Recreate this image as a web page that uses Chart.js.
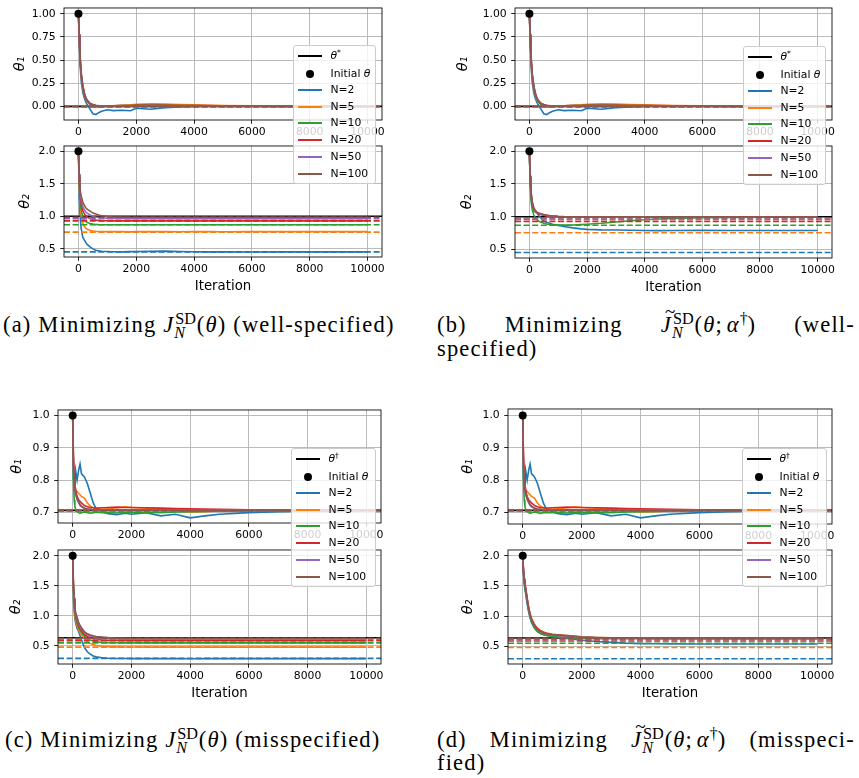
<!DOCTYPE html>
<html>
<head>
<meta charset="utf-8">
<script src="https://cdn.jsdelivr.net/npm/chart.js@4.4.0/dist/chart.umd.min.js"></script>
<style>
  body { margin: 0; background: #fff; }
  #fig { position: relative; width: 859px; height: 778px; overflow: hidden; background: #fff; }
  canvas { position: absolute; }
  .leg { position: absolute; background: rgba(255,255,255,0.8); border: 1px solid #cccccc; border-radius: 3px;
         box-sizing: border-box; font: 10.8px "DejaVu Sans"; color: #000; }
  .row { position: absolute; left: 0; right: 0; height: 0; }
  .sw { position: absolute; left: 4px; width: 24px; top: -1px; height: 2px; }
  .dot { position: absolute; left: 12px; top: -4px; width: 8px; height: 8px; border-radius: 50%; background: #000; }
  .lt { position: absolute; left: 36.5px; top: -7px; line-height: 14px; white-space: nowrap; }
  .lt sup { font-size: 0.7em; vertical-align: 0.55em; line-height: 0; }
  .cap { position: absolute; font-family: "Liberation Serif"; font-size: 22.5px; line-height: 24px; color: #000; white-space: nowrap; }
  .spread { display: flex; justify-content: space-between; }
  .ss { display: inline-block; position: relative; width: 1.0em; height: 0.1em; }
  .up { position: absolute; left: 0.06em; bottom: 0.28em; font-size: 0.72em; line-height: 1; letter-spacing: 0; }
  .dn { position: absolute; left: 0; top: -0.3em; font-size: 0.72em; line-height: 1; font-style: italic; }
  .tl { position: relative; }
  .tld { position: absolute; left: 0.22em; top: -0.5em; font-style: normal; font-size: 0.85em; line-height: 1; }
  .dg { font-size: 0.7em; position: relative; top: -0.5em; letter-spacing: 0; }
  .th { display: inline-block; width: 0.17em; }
</style>
</head>
<body>
<div id="fig">
  <div class="cap" id="capA" style="left:3px;top:313px">(a) Minimizing <i>J</i><span class="ss"><span class="up">SD</span><span class="dn">N</span></span>(<i>θ</i>) (well-specified)</div>
  <div class="cap spread" style="left:437px;top:313px;width:418px"><span>(b)</span><span>Minimizing</span><span><span class="tl"><i>J</i><span class="tld">~</span></span><span class="ss"><span class="up">SD</span><span class="dn">N</span></span>(<i>θ</i>;<span class="th"></span><i>α</i><span class="dg">†</span>)</span><span>(well-</span></div>
  <div class="cap" style="left:437px;top:337px">specified)</div>
  <div class="cap" style="left:5px;top:728px">(c) Minimizing <i>J</i><span class="ss"><span class="up">SD</span><span class="dn">N</span></span>(<i>θ</i>) (misspecified)</div>
  <div class="cap spread" style="left:437px;top:728px;width:418px"><span>(d)</span><span>Minimizing</span><span><span class="tl"><i>J</i><span class="tld">~</span></span><span class="ss"><span class="up">SD</span><span class="dn">N</span></span>(<i>θ</i>;<span class="th"></span><i>α</i><span class="dg">†</span>)</span><span>(misspeci-</span></div>
  <div class="cap" style="left:437px;top:751px">fied)</div>
</div>
<script>
// iterations shared by all traces
const iterations = [0, 25, 50, 75, 100, 150, 200, 250, 300, 400, 500, 600, 700, 800, 1000,
  1200, 1500, 1800, 2000, 2500, 3000, 3500, 4000, 4500, 5000, 6000, 7000, 8000, 9000, 10000];

const nLabels = ['N=2', 'N=5', 'N=10', 'N=20', 'N=50', 'N=100'];
const nColors = ['#1f77b4', '#ff7f0e', '#2ca02c', '#d62728', '#9467bd', '#8c564b'];

const xTicks = [0, 2000, 4000, 6000, 8000, 10000];
const yTicksTheta1Well = [0, 0.25, 0.5, 0.75, 1.0];
const yTicksTheta1Mis = [0.7, 0.8, 0.9, 1.0];
const yTicksTheta2 = [0.5, 1.0, 1.5, 2.0];

// reference parameters (black lines) and starting point
const thetaStar = [0.0, 1.0];
const thetaDagger = [0.707, 0.635];
const initialTheta = [1.0, 2.0];

// dashed lines, one per N
const dashTheta1Well = [0, 0, 0, 0, 0, 0];
const dashTheta2Well = [0.455, 0.757, 0.87, 0.93, 0.963, 0.985];
const dashTheta1Mis = [0.707, 0.707, 0.707, 0.707, 0.707, 0.707];
const dashTheta2Mis = [0.29, 0.478, 0.548, 0.586, 0.61, 0.625];

// theta_1 traces (same in a and b)
const theta1Well = [
  [1.00,0.72,0.50,0.36,0.26,0.15,0.09,0.05,0.02,-0.03,-0.08,-0.088,-0.068,-0.052,-0.036,-0.046,-0.042,-0.047,-0.02,-0.031,-0.013,-0.006,0.0,0.004,0.0,0.001,-0.003,0.0,0.001,0.0],
  [1.00,0.75,0.55,0.40,0.31,0.19,0.12,0.08,0.05,0.02,0.005,-0.005,-0.008,-0.005,0.0,0.006,0.012,0.017,0.022,0.027,0.024,0.021,0.018,0.013,0.009,0.006,0.004,0.003,0.002,0.001],
  [1.00,0.76,0.56,0.42,0.32,0.20,0.13,0.085,0.055,0.025,0.01,0.0,-0.004,0.0,0.004,0.006,0.008,0.01,0.012,0.014,0.012,0.01,0.008,0.006,0.004,0.003,0.002,0.001,0.001,0.0],
  [1.00,0.77,0.57,0.43,0.33,0.21,0.14,0.09,0.06,0.03,0.015,0.008,0.004,0.004,0.005,0.006,0.008,0.01,0.011,0.012,0.011,0.01,0.009,0.008,0.007,0.005,0.004,0.003,0.002,0.001],
  [1.00,0.78,0.58,0.44,0.34,0.22,0.145,0.095,0.065,0.032,0.018,0.01,0.007,0.005,0.004,0.004,0.005,0.006,0.007,0.008,0.007,0.006,0.005,0.004,0.003,0.002,0.002,0.001,0.001,0.0],
  [1.00,0.78,0.59,0.45,0.35,0.23,0.15,0.10,0.068,0.034,0.02,0.012,0.008,0.006,0.005,0.004,0.004,0.004,0.005,0.005,0.005,0.004,0.004,0.003,0.003,0.002,0.002,0.001,0.001,0.0]
];

// theta_1 traces (same in c and d)
const theta1Mis = [
  [1.00,0.80,0.82,0.79,0.83,0.80,0.83,0.85,0.82,0.81,0.79,0.76,0.73,0.712,0.703,0.697,0.694,0.698,0.695,0.70,0.69,0.695,0.684,0.69,0.695,0.70,0.703,0.705,0.706,0.706],
  [1.00,0.86,0.80,0.78,0.77,0.765,0.76,0.755,0.75,0.745,0.73,0.72,0.715,0.712,0.71,0.712,0.715,0.718,0.716,0.714,0.712,0.706,0.702,0.703,0.705,0.706,0.707,0.707,0.707,0.707],
  [1.00,0.80,0.74,0.72,0.71,0.703,0.70,0.698,0.70,0.702,0.70,0.698,0.70,0.701,0.70,0.70,0.699,0.701,0.70,0.701,0.70,0.702,0.703,0.704,0.705,0.706,0.707,0.707,0.707,0.707],
  [1.00,0.88,0.82,0.79,0.77,0.75,0.74,0.735,0.73,0.722,0.718,0.716,0.715,0.714,0.715,0.716,0.717,0.716,0.716,0.715,0.714,0.713,0.712,0.711,0.71,0.709,0.709,0.708,0.708,0.708],
  [1.00,0.84,0.79,0.77,0.755,0.74,0.73,0.722,0.718,0.713,0.711,0.71,0.709,0.709,0.709,0.709,0.709,0.709,0.709,0.708,0.708,0.708,0.708,0.708,0.707,0.707,0.707,0.707,0.707,0.707],
  [1.00,0.85,0.80,0.775,0.76,0.745,0.735,0.726,0.72,0.714,0.711,0.71,0.709,0.708,0.708,0.708,0.708,0.708,0.708,0.708,0.707,0.707,0.707,0.707,0.707,0.707,0.707,0.707,0.707,0.707]
];

// theta_2 traces, panel (a)
const theta2WellJ = [
  [2.00,1.30,1.05,0.90,0.80,0.68,0.64,0.60,0.57,0.53,0.50,0.48,0.47,0.465,0.46,0.456,0.455,0.458,0.46,0.462,0.466,0.46,0.456,0.455,0.455,0.452,0.455,0.455,0.455,0.455],
  [2.00,1.50,1.25,1.10,1.00,0.90,0.85,0.82,0.80,0.785,0.775,0.77,0.768,0.766,0.765,0.768,0.765,0.762,0.765,0.766,0.765,0.764,0.765,0.765,0.764,0.765,0.765,0.765,0.765,0.765],
  [2.00,1.55,1.32,1.18,1.09,0.99,0.95,0.92,0.905,0.89,0.88,0.875,0.872,0.871,0.87,0.87,0.87,0.87,0.87,0.87,0.87,0.87,0.87,0.87,0.87,0.87,0.87,0.87,0.87,0.87],
  [2.00,1.60,1.38,1.26,1.18,1.09,1.04,1.01,0.99,0.965,0.95,0.942,0.937,0.934,0.931,0.93,0.93,0.93,0.93,0.93,0.93,0.93,0.93,0.93,0.93,0.93,0.93,0.93,0.93,0.93],
  [2.00,1.63,1.42,1.30,1.24,1.15,1.10,1.07,1.05,1.02,1.00,0.99,0.982,0.977,0.971,0.968,0.966,0.965,0.965,0.965,0.965,0.965,0.965,0.965,0.965,0.965,0.965,0.965,0.965,0.965],
  [2.00,1.65,1.45,1.35,1.30,1.22,1.17,1.13,1.11,1.08,1.05,1.035,1.02,1.01,0.997,0.99,0.987,0.986,0.985,0.985,0.985,0.985,0.985,0.985,0.985,0.985,0.985,0.985,0.985,0.985]
];

// theta_2 traces, panel (b)
const theta2WellJt = [
  [2.00,1.55,1.35,1.22,1.15,1.09,1.07,1.06,1.03,0.98,0.935,0.915,0.90,0.885,0.868,0.85,0.83,0.815,0.807,0.80,0.798,0.795,0.79,0.788,0.79,0.792,0.79,0.79,0.79,0.79],
  [2.00,1.58,1.38,1.26,1.18,1.11,1.08,1.06,1.05,1.035,1.025,1.015,1.01,1.006,1.0,0.998,0.997,0.996,0.996,0.996,0.996,0.996,0.996,0.996,0.996,0.996,0.996,0.996,0.996,0.996],
  [2.00,1.50,1.30,1.18,1.10,1.03,0.99,0.96,0.94,0.915,0.90,0.89,0.882,0.876,0.872,0.872,0.875,0.88,0.885,0.90,0.92,0.94,0.955,0.965,0.975,0.985,0.99,0.993,0.995,0.996],
  [2.00,1.60,1.40,1.28,1.20,1.12,1.085,1.065,1.05,1.035,1.025,1.016,1.01,1.006,1.0,0.998,0.997,0.997,0.997,0.997,0.997,0.997,0.997,0.997,0.997,0.997,0.997,0.997,0.997,0.997],
  [2.00,1.62,1.42,1.30,1.22,1.13,1.09,1.07,1.055,1.04,1.03,1.02,1.014,1.01,1.004,1.0,0.998,0.998,0.998,0.998,0.998,0.998,0.998,0.998,0.998,0.998,0.998,0.998,0.998,0.998],
  [2.00,1.63,1.43,1.31,1.23,1.14,1.10,1.075,1.06,1.045,1.035,1.025,1.018,1.013,1.007,1.003,1.0,0.999,0.999,0.999,0.999,0.999,0.999,0.999,0.999,0.999,0.999,0.999,0.999,0.999]
];

// theta_2 traces, panel (c)
const theta2MisJ = [
  [2.00,1.30,1.08,0.95,0.88,0.79,0.74,0.67,0.60,0.47,0.40,0.36,0.33,0.315,0.30,0.292,0.288,0.287,0.286,0.285,0.285,0.285,0.284,0.285,0.285,0.285,0.285,0.285,0.285,0.285],
  [2.00,1.40,1.15,1.00,0.92,0.84,0.77,0.72,0.68,0.62,0.57,0.54,0.52,0.505,0.492,0.486,0.482,0.48,0.48,0.478,0.478,0.478,0.478,0.478,0.478,0.478,0.478,0.478,0.478,0.478],
  [2.00,1.45,1.20,1.05,0.96,0.88,0.81,0.76,0.72,0.66,0.62,0.595,0.58,0.568,0.557,0.552,0.55,0.548,0.548,0.548,0.548,0.548,0.548,0.548,0.548,0.548,0.548,0.548,0.548,0.548],
  [2.00,1.50,1.25,1.10,1.00,0.92,0.84,0.79,0.75,0.69,0.655,0.635,0.62,0.607,0.596,0.59,0.587,0.586,0.586,0.586,0.586,0.586,0.586,0.586,0.586,0.586,0.586,0.586,0.586,0.586],
  [2.00,1.52,1.28,1.13,1.03,0.95,0.87,0.82,0.78,0.72,0.685,0.662,0.645,0.634,0.622,0.616,0.612,0.61,0.61,0.61,0.61,0.61,0.61,0.61,0.61,0.61,0.61,0.61,0.61,0.61],
  [2.00,1.55,1.30,1.15,1.05,0.98,0.89,0.84,0.80,0.735,0.70,0.68,0.665,0.655,0.645,0.636,0.63,0.627,0.626,0.625,0.625,0.625,0.625,0.625,0.625,0.625,0.625,0.625,0.625,0.625]
];

// theta_2 traces, panel (d)
const theta2MisJt = [
  [2.00,1.70,1.54,1.44,1.37,1.21,1.07,0.97,0.89,0.80,0.745,0.715,0.695,0.682,0.665,0.65,0.63,0.61,0.598,0.578,0.563,0.55,0.543,0.54,0.538,0.537,0.537,0.537,0.537,0.537],
  [2.00,1.78,1.63,1.54,1.47,1.30,1.15,1.04,0.96,0.86,0.80,0.76,0.735,0.72,0.70,0.69,0.675,0.662,0.653,0.643,0.637,0.634,0.632,0.631,0.63,0.63,0.63,0.63,0.63,0.63],
  [2.00,1.72,1.56,1.47,1.40,1.24,1.09,0.98,0.90,0.80,0.74,0.71,0.69,0.678,0.662,0.65,0.638,0.632,0.628,0.625,0.624,0.623,0.622,0.621,0.62,0.62,0.62,0.62,0.62,0.62],
  [2.00,1.76,1.61,1.53,1.46,1.29,1.14,1.03,0.95,0.85,0.79,0.755,0.73,0.713,0.695,0.683,0.668,0.656,0.648,0.64,0.636,0.634,0.633,0.632,0.632,0.632,0.632,0.632,0.632,0.632],
  [2.00,1.74,1.59,1.51,1.44,1.27,1.12,1.01,0.93,0.83,0.77,0.74,0.717,0.703,0.688,0.678,0.665,0.655,0.648,0.64,0.637,0.636,0.635,0.635,0.635,0.635,0.635,0.635,0.635,0.635],
  [2.00,1.75,1.60,1.52,1.45,1.28,1.13,1.02,0.94,0.84,0.78,0.745,0.72,0.705,0.69,0.683,0.675,0.665,0.655,0.645,0.64,0.637,0.636,0.635,0.635,0.635,0.635,0.635,0.635,0.635]
];

const axesList = [
  { L: 64, T: 5, R: 382, B: 120, y: [-0.147, 1.063], ticks: yTicksTheta1Well, dec: 2, title: 'θ₁', tx: 20, xTitle: false,
    traces: theta1Well, ref: thetaStar[0], dash: dashTheta1Well, start: initialTheta[0] },
  { L: 64, T: 143, R: 382, B: 257, y: [0.376, 2.079], ticks: yTicksTheta2, dec: 1, title: 'θ₂', tx: 25, xTitle: true,
    traces: theta2WellJ, ref: thetaStar[1], dash: dashTheta2Well, start: initialTheta[1] },
  { L: 515, T: 5, R: 832, B: 120, y: [-0.147, 1.063], ticks: yTicksTheta1Well, dec: 2, title: 'θ₁', tx: 463, xTitle: false,
    traces: theta1Well, ref: thetaStar[0], dash: dashTheta1Well, start: initialTheta[0] },
  { L: 515, T: 143, R: 832, B: 258, y: [0.371, 2.079], ticks: yTicksTheta2, dec: 1, title: 'θ₂', tx: 467, xTitle: true,
    traces: theta2WellJt, ref: thetaStar[1], dash: dashTheta2Well, start: initialTheta[1] },
  { L: 58, T: 407, R: 381, B: 523, y: [0.668, 1.017], ticks: yTicksTheta1Mis, dec: 1, title: 'θ₁', tx: 17, xTitle: false,
    traces: theta1Mis, ref: thetaDagger[0], dash: dashTheta1Mis, start: initialTheta[0] },
  { L: 58, T: 547, R: 381, B: 664, y: [0.196, 2.0975], ticks: yTicksTheta2, dec: 1, title: 'θ₂', tx: 16.5, xTitle: true,
    traces: theta2MisJ, ref: thetaDagger[1], dash: dashTheta2Mis, start: initialTheta[1] },
  { L: 508, T: 406, R: 832, B: 524, y: [0.665, 1.020], ticks: yTicksTheta1Mis, dec: 1, title: 'θ₁', tx: 468, xTitle: false,
    traces: theta1Mis, ref: thetaDagger[0], dash: dashTheta1Mis, start: initialTheta[0] },
  { L: 508, T: 547, R: 832, B: 664, y: [0.204, 2.097], ticks: yTicksTheta2, dec: 1, title: 'θ₂', tx: 468, xTitle: true,
    traces: theta2MisJt, ref: thetaDagger[1], dash: dashTheta2Mis, start: initialTheta[1] }
];

const legends = [
  { left: 293, top: 45, width: 83, ref: '<i>θ</i><sup>*</sup>' },
  { left: 743, top: 46, width: 83, ref: '<i>θ</i><sup>*</sup>' },
  { left: 291, top: 447.5, width: 85, ref: '<i>θ</i><sup>†</sup>' },
  { left: 742, top: 447.5, width: 85, ref: '<i>θ</i><sup>†</sup>' }
];
const legendRows = [10.5, 28.5, 44.5, 61.5, 78, 95, 111.5, 128.5];

const tickFont = { family: 'DejaVu Sans', size: 10.8 };
const labelFont = { family: 'DejaVu Sans', size: 14.5, style: 'italic' };

const spines = {
  id: 'spines',
  afterDatasetsDraw(chart) {
    const { ctx, chartArea: a } = chart;
    ctx.save();
    ctx.strokeStyle = '#000';
    ctx.lineWidth = 0.86;
    ctx.strokeRect(a.left, a.top, a.right - a.left, a.bottom - a.top);
    ctx.restore();
  }
};

const fig = document.getElementById('fig');

function hline(y, color, dashed) {
  return {
    data: [{ x: -500, y: y }, { x: 10500, y: y }],
    borderColor: color, borderWidth: 1.6, pointRadius: 0,
    borderDash: dashed ? [6, 2.6] : []
  };
}

axesList.forEach(p => {
  const padL = 70, padT = 8, padR = 22;
  const xh = p.xTitle ? 40 : 24;
  const left = p.L - padL, top = p.T - padT;
  const w = (p.R - p.L) + padL + padR;
  const h = (p.B - p.T) + padT + xh;
  const cv = document.createElement('canvas');
  cv.width = w; cv.height = h;
  cv.style.left = left + 'px'; cv.style.top = top + 'px';
  cv.style.width = w + 'px'; cv.style.height = h + 'px';
  fig.insertBefore(cv, fig.firstChild);

  const ds = [hline(p.ref, '#000', false)];
  p.traces.forEach((vals, i) => {
    ds.push({
      data: iterations.map((x, j) => ({ x: x, y: vals[j] })),
      borderColor: nColors[i], borderWidth: 1.6, pointRadius: 0
    });
  });
  p.dash.forEach((v, i) => ds.push(hline(v, nColors[i], true)));
  ds.push({
    data: [{ x: 0, y: p.start }], showLine: false,
    pointRadius: 4, pointBackgroundColor: '#000', pointBorderWidth: 0
  });
  ds.forEach((d, i) => { d.order = ds.length - i; });

  new Chart(cv, {
    type: 'line',
    data: { datasets: ds },
    plugins: [spines],
    options: {
      responsive: false, animation: false, events: [], devicePixelRatio: 1,
      layout: { padding: { left: 0, top: padT, right: padR, bottom: 0 }, autoPadding: false },
      plugins: { legend: { display: false }, tooltip: { enabled: false } },
      elements: { line: { tension: 0 } },
      scales: {
        x: {
          type: 'linear', min: -500, max: 10500,
          afterBuildTicks: s => { s.ticks = xTicks.map(v => ({ value: v })); },
          afterFit: s => { s.height = xh; },
          grid: { color: '#b0b0b0', lineWidth: 0.86, tickLength: 3.8, tickColor: '#000', tickWidth: 0.86 },
          border: { display: false },
          ticks: { font: tickFont, color: '#000', padding: 2, maxRotation: 0, autoSkip: false, callback: v => String(v) },
          title: { display: p.xTitle, text: 'Iteration', color: '#000',
                   font: { family: 'DejaVu Sans', size: 13.3 }, padding: { top: 0, bottom: 2.7 } }
        },
        y: {
          type: 'linear', min: p.y[0], max: p.y[1],
          afterBuildTicks: s => { s.ticks = p.ticks.map(v => ({ value: v })); },
          afterFit: s => { s.width = padL; },
          grid: { color: '#b0b0b0', lineWidth: 0.86, tickLength: 3.8, tickColor: '#000', tickWidth: 0.86 },
          border: { display: false },
          ticks: { font: tickFont, color: '#000', padding: 4.5, callback: v => v.toFixed(p.dec) },
          title: { display: true, text: p.title, color: '#000', font: labelFont,
                   padding: { top: p.tx - left - 8.7, bottom: 0 } }
        }
      }
    }
  });
});

legends.forEach(lg => {
  const box = document.createElement('div');
  box.className = 'leg';
  box.style.left = lg.left + 'px';
  box.style.top = lg.top + 'px';
  box.style.width = lg.width + 'px';
  box.style.height = '139px';
  const entries = [{ html: lg.ref, kind: 'line', color: '#000' }, { html: 'Initial <i>θ</i>', kind: 'dot' }]
    .concat(nLabels.map((t, i) => ({ html: t, kind: 'line', color: nColors[i] })));
  entries.forEach((e, i) => {
    const row = document.createElement('div');
    row.className = 'row';
    row.style.top = Math.round(legendRows[i] - 1) + 'px';
    const mark = e.kind === 'dot'
      ? '<div class="dot"></div>'
      : '<div class="sw" style="background:' + e.color + '"></div>';
    row.innerHTML = mark + '<div class="lt">' + e.html + '</div>';
    box.appendChild(row);
  });
  fig.appendChild(box);
});

// small letter spacing so that caption (a) spans its original width
const capA = document.getElementById('capA');
const extra = Math.max(0, (395 - capA.getBoundingClientRect().width) / capA.textContent.length);
document.querySelectorAll('.cap').forEach(c => { c.style.letterSpacing = extra.toFixed(2) + 'px'; });
</script>
</body>
</html>
